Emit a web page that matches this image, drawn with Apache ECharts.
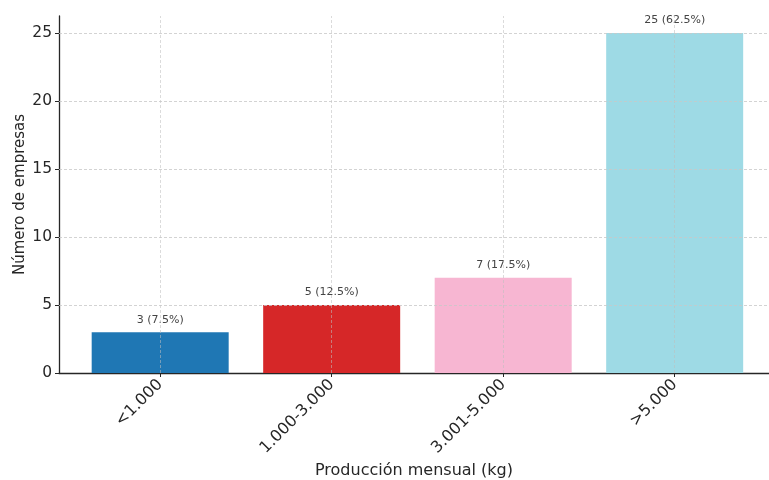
<!DOCTYPE html>
<html><head><meta charset="utf-8">
<script src="https://cdn.jsdelivr.net/npm/echarts@6/dist/echarts.min.js"></script>
<style>html,body{margin:0;padding:0;background:#fff}#c{width:769px;height:480px}</style>
</head><body><div id="c"></div>
<script>
const categories = ['<1.000', '1.000-3.000', '3.001-5.000', '>5.000'];
const counts = [3, 5, 7, 25];
const percents = [7.5, 12.5, 17.5, 62.5];
const colors = ['#1f77b4', '#d62728', '#f7b6d2', '#9edae5'];
const yTicks = [0, 5, 10, 15, 20, 25];
const xTitle = 'Producción mensual (kg)';
const yTitle = 'Número de empresas';

const positions = categories.map((c, i) => i);
const font = 'DejaVu Sans, sans-serif';
const chart = echarts.init(document.getElementById('c'));
chart.setOption({
  animation: false,
  grid: { left: 59, right: 0, top: 16, bottom: 107, containLabel: false, outerBoundsMode: 'none' },
  xAxis: {
    type: 'value', min: -0.59, max: 3.55,
    name: xTitle, nameLocation: 'middle', nameGap: 90, nameMoveOverlap: false,
    nameTextStyle: { fontFamily: font, fontSize: 16, color: '#262626' },
    axisLine: { show: true, onZero: false, lineStyle: { color: '#262626', width: 1.3 } },
    axisTick: { show: true, customValues: positions, length: 4, lineStyle: { color: '#262626' } },
    axisLabel: { customValues: positions, rotate: 45, margin: 9, fontFamily: font, fontSize: 16, color: '#262626',
      formatter: v => categories[Math.round(v)] },
    splitLine: { show: false }
  },
  yAxis: {
    type: 'value', min: 0, max: 26.25,
    name: yTitle, nameLocation: 'middle', nameGap: 31, nameRotate: 90, nameMoveOverlap: false,
    nameTextStyle: { fontFamily: font, fontSize: 15, color: '#262626', padding: [0, 0, 0, 0] },
    axisLine: { show: true, onZero: false, lineStyle: { color: '#262626', width: 1.3 } },
    axisTick: { show: true, customValues: yTicks, length: 4, lineStyle: { color: '#262626' } },
    axisLabel: { customValues: yTicks, fontFamily: font, fontSize: 15.5, color: '#262626', margin: 7 },
    splitLine: { show: false }
  },
  series: [{
    type: 'bar',
    barWidth: 137,
    z: 3,
    data: counts.map((v, i) => ({ value: [i, v], itemStyle: { color: colors[i] } })),
    label: { show: true, position: 'top', distance: 7, fontFamily: font, fontSize: 11, color: '#444',
      formatter: p => counts[p.dataIndex] + ' (' + percents[p.dataIndex] + '%)' },
    markLine: {
      silent: true, symbol: 'none', label: { show: false }, z: 4,
      lineStyle: { color: 'rgba(190,190,190,0.7)', type: [3, 2], width: 0.8 },
      data: positions.map(p => ({ xAxis: p }))
    }
  }, {
    type: 'line',
    data: [],
    z: 1,
    markLine: {
      silent: true, symbol: 'none', label: { show: false },
      lineStyle: { color: '#c8c8c8', type: [3, 2], width: 0.8 },
      data: yTicks.filter(t => t > 0).map(t => ({ yAxis: t }))
    }
  }]
});
</script></body></html>
